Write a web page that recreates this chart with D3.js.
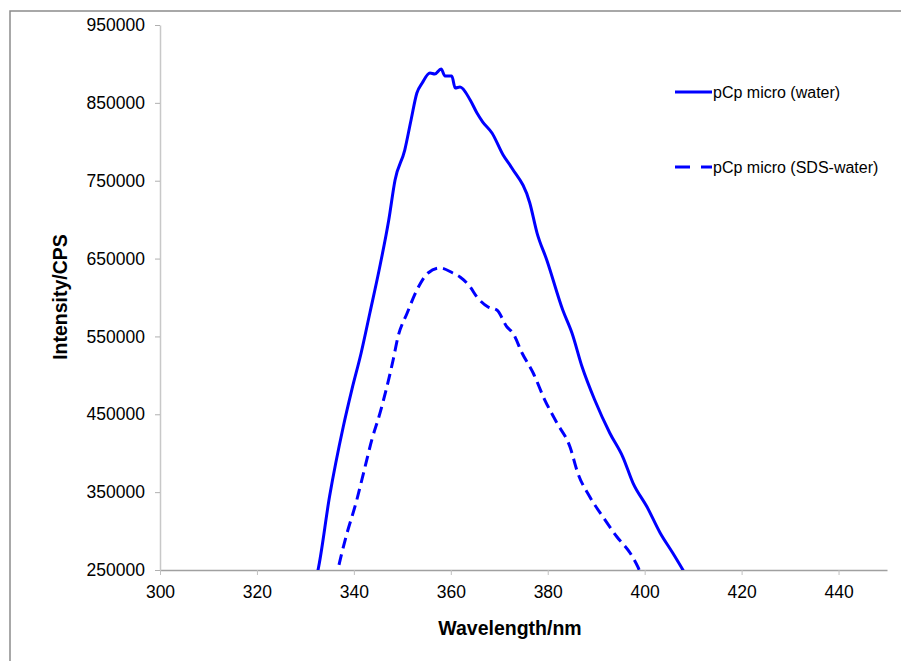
<!DOCTYPE html>
<html>
<head>
<meta charset="utf-8">
<script src="https://cdn.jsdelivr.net/npm/d3@7"></script>
<style>
  body { margin: 0; background: #fff; }
  svg { font-family: "Liberation Sans", Arial, sans-serif; }
</style>
</head>
<body>
<div id="chart"></div>
<script>
// series names
var seriesNames = ["pCp micro (water)", "pCp micro (SDS-water)"];

// pCp micro (water)
var waterWl = [331.8, 332.6, 335.0, 337.8, 339.6, 341.5, 343.3, 345.2, 347.2, 348.5, 350.5, 351.8, 353.0,
  354.1, 355.7, 356.7, 358.0, 358.8, 360.2, 360.9, 361.9, 364.0, 365.4, 366.6, 368.5, 370.8,
  372.6, 376.3, 377.8, 379.8, 383.1, 385.0, 387.1, 389.7, 392.8, 395.5, 397.6, 400.5, 403.2,
  405.8, 407.9, 409.0];
var waterInt = [230000, 250000, 345000, 433700, 482000, 528700, 580100, 635000, 699500, 750900, 789400, 828000, 862600,
  875500, 888300, 887000, 893500, 884500, 884500, 869100, 870400, 853700, 837000, 825400, 811300, 783000,
  766300, 721400, 682800, 648200, 583900, 554400, 510700, 468300, 426000, 395100, 361700, 330900, 297500,
  271800, 250000, 238000];

// pCp micro (SDS-water)
var sdsWl = [336.2, 336.7, 338.2, 340.6, 342.3, 343.7, 345.4, 346.8, 348.1, 349.1, 351.0, 353.0, 355.3,
  357.8, 360.4, 361.9, 364.0, 365.4, 367.7, 369.5, 371.6, 372.8, 374.7, 377.0, 379.4, 381.9,
  384.6, 386.2, 388.7, 391.4, 394.3, 397.0, 398.6, 399.4];
var sdsInt = [235000, 250000, 288500, 339900, 382300, 417000, 451700, 485000, 519700, 549300, 580100, 609600, 631500,
  637900, 631500, 626300, 613500, 600600, 587800, 583900, 562100, 554400, 528700, 503000, 468300, 438800,
  408000, 374600, 343800, 318100, 292400, 271800, 253900, 242000];

var xTicks = [300, 320, 340, 360, 380, 400, 420, 440];
var yTicks = [250000, 350000, 450000, 550000, 650000, 750000, 850000, 950000];

var width = 901, height = 661;
var margin = { top: 25, right: 14, bottom: 91, left: 160 };

var svg = d3.select("#chart")
  .append("svg")
  .attr("width", width)
  .attr("height", height);

// outer frame (only left and top edges visible)
svg.append("path")
  .attr("d", "M10,661 L10,11 L901,11")
  .attr("fill", "none")
  .attr("stroke", "#8c8c8c")
  .attr("stroke-width", 1.5);

var x = d3.scaleLinear()
  .domain([300, 450])
  .range([margin.left, width - margin.right]);

var y = d3.scaleLinear()
  .domain([250000, 950000])
  .range([height - margin.bottom, margin.top]);

// axes
var xAxis = svg.append("g")
  .attr("transform", "translate(0," + y(250000) + ")")
  .call(d3.axisBottom(x).tickValues(xTicks).tickSize(5).tickSizeOuter(0).tickPadding(11).tickFormat(d3.format("d")));
xAxis.select(".domain").attr("stroke", "#a0a0a0").attr("stroke-width", 1.5);
xAxis.selectAll(".tick line").attr("stroke", "#c0c0c0");
xAxis.selectAll("text").attr("font-size", 17.5).attr("fill", "#000")
  .attr("font-family", "Liberation Sans, Arial, sans-serif");

var yAxis = svg.append("g")
  .attr("transform", "translate(" + x(300) + ",0)")
  .call(d3.axisLeft(y).tickValues(yTicks).tickSize(5).tickSizeOuter(0).tickPadding(10).tickFormat(d3.format("d")));
yAxis.select(".domain").attr("stroke", "#c8c8c8").attr("stroke-width", 1.5);
yAxis.selectAll(".tick line").attr("stroke", "#b0b0b0");
yAxis.selectAll("text").attr("font-size", 17.5).attr("fill", "#000")
  .attr("font-family", "Liberation Sans, Arial, sans-serif");

// axis titles
svg.append("text")
  .attr("x", 510)
  .attr("y", 635)
  .attr("text-anchor", "middle")
  .attr("font-size", 19.5)
  .attr("font-weight", "bold")
  .text("Wavelength/nm");

svg.append("text")
  .attr("transform", "translate(67,297) rotate(-90)")
  .attr("text-anchor", "middle")
  .attr("font-size", 19.5)
  .attr("font-weight", "bold")
  .text("Intensity/CPS");

// clip to plot area
svg.append("clipPath")
  .attr("id", "plot-clip")
  .append("rect")
  .attr("x", x(300))
  .attr("y", y(950000) - 5)
  .attr("width", x(450) - x(300))
  .attr("height", y(250000) - y(950000) + 5);

var line = d3.line()
  .x(function(d) { return x(d[0]); })
  .y(function(d) { return y(d[1]); })
  .curve(d3.curveMonotoneX);

var series = [
  { name: seriesNames[0], pts: d3.zip(waterWl, waterInt), dash: null },
  { name: seriesNames[1], pts: d3.zip(sdsWl, sdsInt), dash: "11,6" }
];

svg.append("g")
  .attr("clip-path", "url(#plot-clip)")
  .selectAll("path")
  .data(series)
  .enter().append("path")
  .attr("d", function(d) { return line(d.pts); })
  .attr("fill", "none")
  .attr("stroke", "#0000ff")
  .attr("stroke-width", 3)
  .attr("stroke-linejoin", "round")
  .attr("stroke-dasharray", function(d) { return d.dash; });

// legend
var legend = svg.append("g")
  .selectAll("g")
  .data(series)
  .enter().append("g")
  .attr("transform", function(d, i) { return "translate(675," + (92 + i * 75) + ")"; });

legend.append("line")
  .attr("x1", 0)
  .attr("x2", 37)
  .attr("stroke", "#0000ff")
  .attr("stroke-width", 3)
  .attr("stroke-dasharray", function(d) { return d.dash ? "15,11" : null; });

legend.append("text")
  .attr("x", 38)
  .attr("dy", "0.35em")
  .attr("font-size", 16)
  .attr("fill", "#000")
  .text(function(d) { return d.name; });
</script>
</body>
</html>
